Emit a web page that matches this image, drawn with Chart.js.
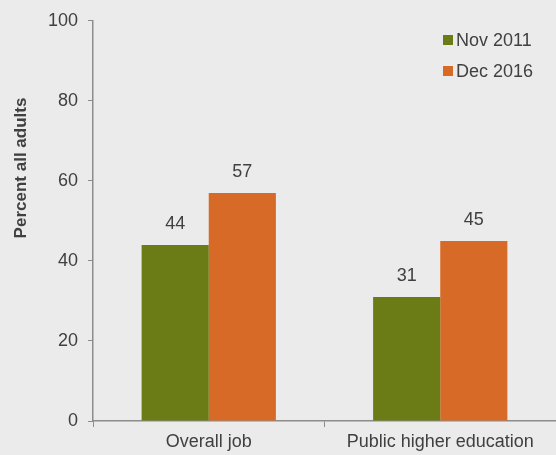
<!DOCTYPE html>
<html lang="en">
<head>
    <meta charset="UTF-8">
    <title>Percent all adults</title>
    <script src="https://cdn.jsdelivr.net/npm/chart.js"></script>
    <style>
        html, body { margin: 0; padding: 0; background: #ebebeb; }
        #wrap { width: 556px; height: 455px; }
    </style>
</head>
<body>
<div id="wrap"><canvas id="chart"></canvas></div>
<script>
// chart data
const categories = ['Overall job', 'Public higher education'];
const nov2011 = [44, 31];
const dec2016 = [57, 45];
const seriesNames = ['Nov 2011', 'Dec 2016'];
const seriesColors = ['#6b7b15', '#d86a27'];
const yTicks = [0, 20, 40, 60, 80, 100];

const textColor = '#404040';
const axisColor = '#8c8c8c';
const fontFamily = '"Liberation Sans", Arial, sans-serif';

// values above each bar
const valueLabels = {
    id: 'valueLabels',
    afterDatasetsDraw(chart) {
        const ctx = chart.ctx;
        ctx.save();
        ctx.fillStyle = textColor;
        ctx.font = '18px ' + fontFamily;
        ctx.textAlign = 'center';
        ctx.textBaseline = 'alphabetic';
        chart.data.datasets.forEach((ds, i) => {
            chart.getDatasetMeta(i).data.forEach((bar, j) => {
                ctx.fillText(ds.data[j], bar.x, bar.y - 16);
            });
        });
        ctx.restore();
    }
};

// legend in the top right and the rotated axis title
const extras = {
    id: 'extras',
    afterDraw(chart) {
        const ctx = chart.ctx;
        ctx.save();
        ctx.font = '18px ' + fontFamily;
        ctx.textBaseline = 'middle';
        chart.data.datasets.forEach((ds, i) => {
            const y = 40 + i * 31;
            ctx.fillStyle = ds.backgroundColor;
            ctx.fillRect(443, y - 5, 10, 10);
            ctx.fillStyle = textColor;
            ctx.fillText(ds.label, 456, y + 1);
        });
        ctx.translate(21, 168);
        ctx.rotate(-Math.PI / 2);
        ctx.font = 'bold 17px ' + fontFamily;
        ctx.textAlign = 'center';
        ctx.fillText('Percent all adults', 0, 0);
        ctx.restore();
    }
};

new Chart(document.getElementById('chart'), {
    type: 'bar',
    data: {
        labels: categories,
        datasets: [
            { label: seriesNames[0], data: nov2011, backgroundColor: seriesColors[0] },
            { label: seriesNames[1], data: dec2016, backgroundColor: seriesColors[1] }
        ]
    },
    options: {
        responsive: true,
        maintainAspectRatio: false,
        animation: false,
        categoryPercentage: 0.58,
        barPercentage: 1,
        layout: { padding: { top: 18, right: 0, left: 0, bottom: 0 } },
        plugins: {
            legend: { display: false },
            tooltip: { enabled: false }
        },
        scales: {
            x: {
                grid: { display: true, drawOnChartArea: false, color: axisColor, tickLength: 6, offset: true },
                border: { color: axisColor, width: 1.5 },
                ticks: { color: textColor, font: { family: fontFamily, size: 18 }, padding: 4 },
                afterFit(scale) { scale.height = 34; }
            },
            y: {
                min: 0,
                max: 100,
                afterBuildTicks(scale) { scale.ticks = yTicks.map(v => ({ value: v })); },
                grid: { display: true, drawOnChartArea: false, color: axisColor, tickLength: 5 },
                border: { color: axisColor, width: 1.5 },
                ticks: { color: textColor, font: { family: fontFamily, size: 18 }, padding: 10 },
                afterFit(scale) { scale.width = 93; }
            }
        }
    },
    plugins: [valueLabels, extras]
});
</script>
</body>
</html>
